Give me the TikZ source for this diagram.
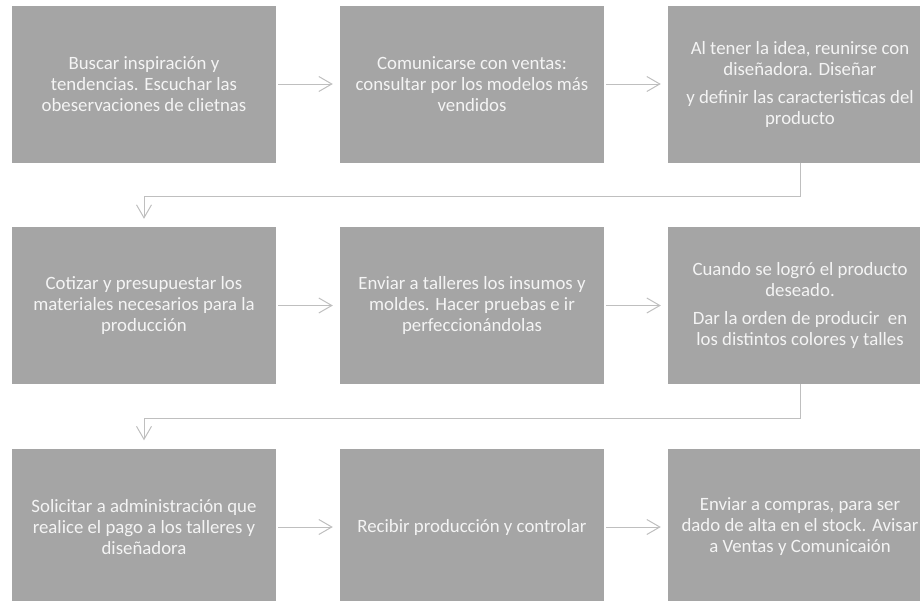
\documentclass[tikz,border=0pt]{standalone}
\usepackage{fontspec}
\setmainfont{Carlito}
\usetikzlibrary{arrows.meta}
\definecolor{StepGray}{HTML}{A5A5A5}
\definecolor{LinkGray}{HTML}{BFBFBF}
\definecolor{TextWhite}{HTML}{F4F4F4}

\begin{document}
\begin{tikzpicture}[
    x=1pt, y=-1pt,
    stepbox/.style={rectangle, fill=StepGray, minimum width=264pt, minimum height=157pt, inner sep=0pt, align=center, text=TextWhite, font=\fontsize{18.8}{21}\selectfont},
    link/.style={-{Straight Barb[length=13pt,width=15pt]}, LinkGray, line width=1pt},
]
\useasboundingbox (0,0) rectangle (920,600);
\clip (0,0) rectangle (920,600);

% Row 1
\node[stepbox] (b1) at (144, 84) {Buscar inspiración y\\tendencias. Escuchar las\\obeservaciones de clietnas};
\node[stepbox] (b2) at (472, 84) {Comunicarse con ventas:\\consultar por los modelos más\\vendidos};
\node[stepbox] (b3) at (800, 84) {Al tener la idea, reunirse con\\diseñadora. Diseñar\\[7pt]y definir las caracteristicas del\\producto};

% Row 2
\node[stepbox] (b4) at (144, 305.5) {Cotizar y presupuestar los\\materiales necesarios para la\\producción};
\node[stepbox] (b5) at (472, 305.5) {Enviar a talleres los insumos y\\moldes. Hacer pruebas e ir\\perfeccionándolas};
\node[stepbox] (b6) at (800, 305.5) {Cuando se logró el producto\\deseado.\\[7pt]Dar la orden de producir~ en\\los distintos colores y talles};

% Row 3
\node[stepbox] (b7) at (144, 527) {Solicitar a administración que\\realice el pago a los talleres y\\diseñadora};
\node[stepbox] (b8) at (472, 527) {Recibir producción y controlar};
\node[stepbox] (b9) at (800, 527) {Enviar a compras, para ser\\dado de alta en el stock. Avisar\\a Ventas y Comunicaión};

% Arrows along the rows
\draw[link, shorten <=2pt, shorten >=7pt] (b1) -- (b2);
\draw[link, shorten <=2pt, shorten >=7pt] (b2) -- (b3);
\draw[link, shorten <=2pt, shorten >=7pt] (b4) -- (b5);
\draw[link, shorten <=2pt, shorten >=7pt] (b5) -- (b6);
\draw[link, shorten <=2pt, shorten >=7pt] (b7) -- (b8);
\draw[link, shorten <=2pt, shorten >=7pt] (b8) -- (b9);

% Return lines to the next row
\draw[link, shorten >=8pt] (b3.south) -- ++(0,34) -| (b4.north);
\draw[link, shorten >=8pt] (b6.south) -- ++(0,34) -| (b7.north);

\end{tikzpicture}
\end{document}
